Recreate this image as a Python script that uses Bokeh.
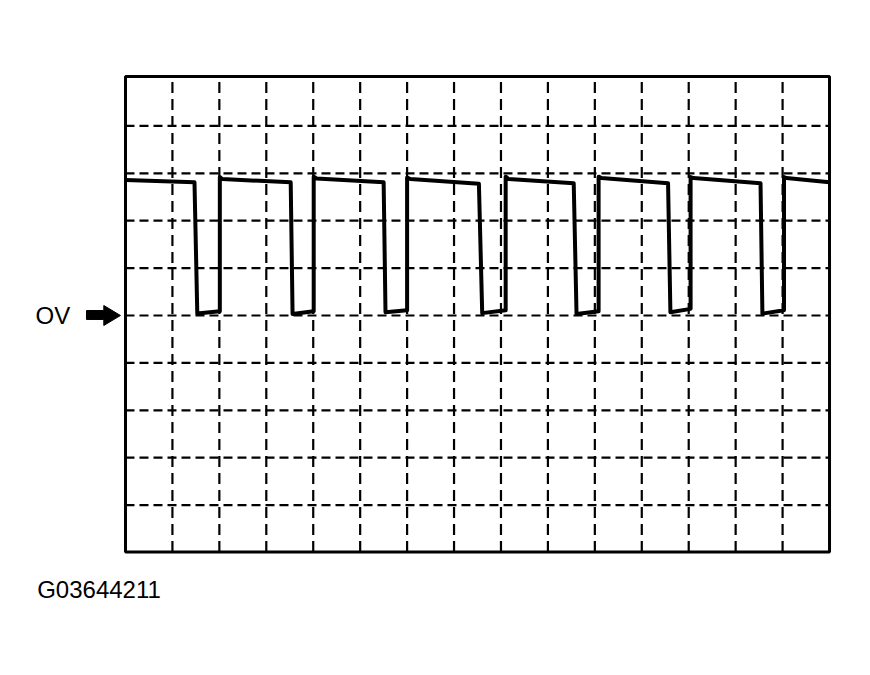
from bokeh.plotting import figure
from bokeh.models import Range1d
from bokeh.core.properties import value
from bokeh.embed import file_html
from bokeh.resources import INLINE

# ---- data (time in divisions, voltage in divisions; 0 V level = 0) ----
time_div = [0.00, 1.47, 1.53, 2.01, 2.01, 2.06,
            3.52, 3.56, 4.01, 4.01, 4.07,
            5.50, 5.54, 6.00, 6.00, 6.07,
            7.53, 7.60, 8.10, 8.10, 8.16,
            9.55, 9.61, 10.08, 10.08, 10.14,
            11.56, 11.61, 12.04, 12.04, 12.10,
            13.53, 13.57, 14.03, 14.03, 14.08,
            15.00]
volt_div = [2.86, 2.81, 0.04, 0.09, 2.92, 2.88,
            2.81, 0.03, 0.09, 2.93, 2.89,
            2.81, 0.07, 0.11, 2.91, 2.88,
            2.78, 0.05, 0.11, 2.93, 2.88,
            2.79, 0.03, 0.09, 2.93, 2.90,
            2.79, 0.07, 0.14, 2.92, 2.90,
            2.79, 0.04, 0.11, 2.92, 2.90,
            2.81]

x_grid = list(range(1, 15))        # vertical divisions
y_grid = list(range(-4, 5))        # horizontal divisions
screen_left, screen_right = 0.0, 15.0
screen_bottom, screen_top = -4.99, 5.04
zero_level = 0.0
zero_label = "OV"
figure_code = "G03644211"

# ---- figure ----
p = figure(width=850, height=650,
           x_range=Range1d(-2.663, 15.447), y_range=Range1d(-7.068, 6.646),
           output_backend="svg", toolbar_location=None,
           x_axis_location=None, y_axis_location=None, min_border=0)
p.grid.visible = False
p.outline_line_color = None
p.background_fill_color = "white"
p.border_fill_color = "white"

# grid
p.segment(x0=x_grid, y0=[screen_bottom] * len(x_grid), x1=x_grid, y1=[screen_top] * len(x_grid),
          line_color="black", line_width=2.2, line_dash="11 6")
p.segment(x0=[screen_left] * len(y_grid), y0=y_grid, x1=[screen_right] * len(y_grid), y1=y_grid,
          line_color="black", line_width=2.2, line_dash="9 5")

# screen frame
p.quad(left=[screen_left], right=[screen_right], bottom=[screen_bottom], top=[screen_top],
       fill_color=None, line_color="black", line_width=3)

# waveform
p.line(time_div, volt_div, line_color="black", line_width=4, line_join="round")

# 0 V marker arrow (shape relative to tip at the 0 V level)
tip_x = -0.107
arrow_dx = [0.0, -0.355, -0.355, -0.724, -0.724, -0.355, -0.355]
arrow_dy = [0.0, 0.211, 0.105, 0.105, -0.084, -0.084, -0.211]
p.patch([tip_x + d for d in arrow_dx], [zero_level + d for d in arrow_dy],
        fill_color="black", line_color="black", line_width=1)

p.text(x=[-1.918], y=[zero_level], text=[zero_label],
       text_font=value("Liberation Sans"), text_font_size="24px",
       text_color="black", text_baseline="middle", text_align="left")
p.text(x=[-1.881], y=[-5.78], text=[figure_code],
       text_font=value("Liberation Sans"), text_font_size="24px",
       text_color="black", text_baseline="alphabetic", text_align="left")

open("out.html", "w").write(file_html(p, INLINE))
